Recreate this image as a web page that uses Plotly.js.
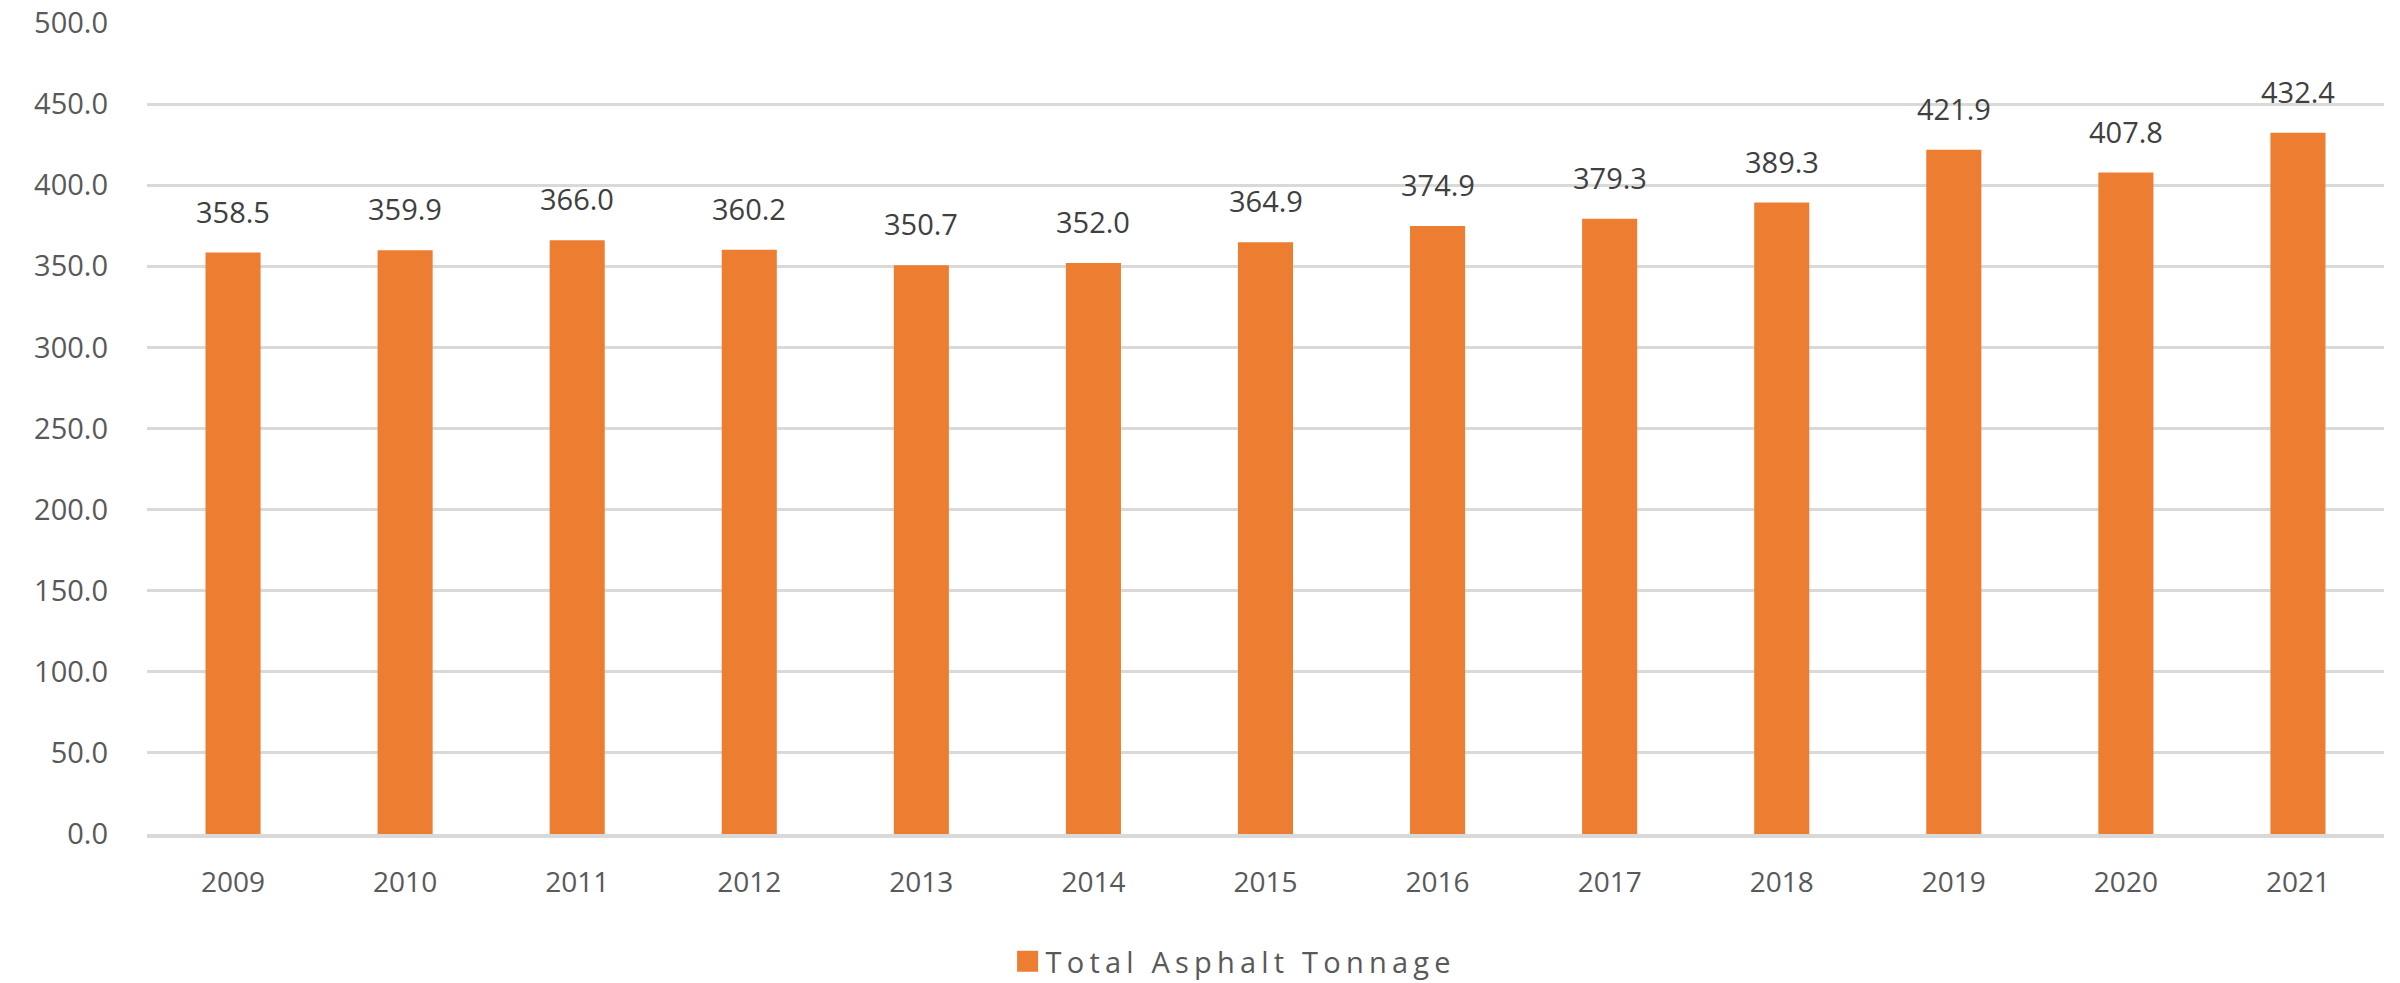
<!DOCTYPE html>
<html>
<head>
<meta charset="utf-8">
<script src="https://cdn.plot.ly/plotly-3.0.1.min.js"></script>
<style>
  html, body { margin: 0; padding: 0; background: #fff; }
  #chart { width: 2400px; height: 983px; }
  .legendtext { letter-spacing: 5.2px; }
  .legendpoints path { transform: translate(22px, 0px) scale(1.75); }
</style>
</head>
<body>
<div id="chart"></div>
<script>
const years = ["2009","2010","2011","2012","2013","2014","2015","2016","2017","2018","2019","2020","2021"];
const tonnage = [358.5, 359.9, 366.0, 360.2, 350.7, 352.0, 364.9, 374.9, 379.3, 389.3, 421.9, 407.8, 432.4];
const seriesName = "Total Asphalt Tonnage";

const trace = {
  type: "bar",
  x: years,
  y: tonnage,
  name: seriesName,
  marker: { color: "#ED7D31" },
  hoverinfo: "x+y"
};

const annotations = years.map((yr, i) => ({
  x: i,
  y: tonnage[i],
  xref: "x",
  yref: "y",
  text: tonnage[i].toFixed(1),
  showarrow: false,
  xanchor: "center",
  yanchor: "bottom",
  yshift: 20,
  font: { family: "Open Sans, sans-serif", size: 29, color: "#404040" }
}));

const layout = {
  width: 2400,
  height: 983,
  margin: { l: 147, r: 16, t: 23, b: 149, autoexpand: false },
  paper_bgcolor: "#ffffff",
  plot_bgcolor: "#ffffff",
  bargap: 0.68,
  showlegend: true,
  legend: {
    orientation: "h",
    x: 0.514,
    xanchor: "center",
    xref: "container",
    yref: "container",
    y: 0.022,
    yanchor: "middle",
    font: { family: "Open Sans, sans-serif", size: 29, color: "#595959" }
  },
  xaxis: {
    type: "category",
    range: [-0.5, years.length - 0.5],
    autorange: false,
    showgrid: false,
    showline: true,
    linecolor: "#D9D9D9",
    linewidth: 4,
    ticks: "",
    ticklabelstandoff: 20,
    tickfont: { family: "Open Sans, sans-serif", size: 28, color: "#595959" }
  },
  yaxis: {
    range: [0, 500],
    autorange: false,
    dtick: 50,
    tick0: 0,
    tickformat: ".1f",
    showgrid: true,
    gridcolor: "#D9D9D9",
    gridwidth: 3,
    zeroline: false,
    showline: false,
    ticks: "",
    ticklabelstandoff: 38,
    tickfont: { family: "Open Sans, sans-serif", size: 29, color: "#595959" }
  },
  annotations: annotations
};

Plotly.newPlot("chart", [trace], layout, { displayModeBar: false, staticPlot: true });
</script>
</body>
</html>
